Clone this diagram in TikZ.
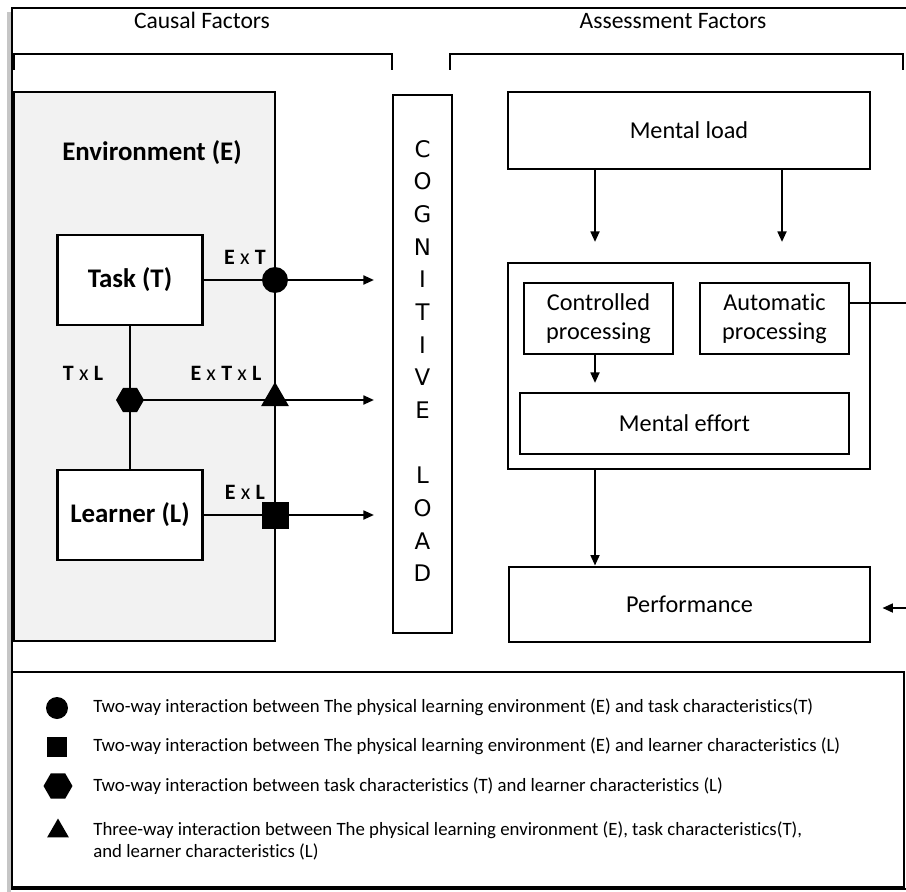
\documentclass[tikz,border=0pt]{standalone}
\usepackage{fontspec}
\setmainfont{Carlito}[Ligatures=NoCommon]
\newfontfamily\cogfont{DejaVu Sans}
\usetikzlibrary{shapes.geometric,arrows.meta}

\begin{document}
\begin{tikzpicture}[x=0.02cm, y=-0.02cm,
    box/.style={draw, line width=1.6pt, fill=white, inner sep=0pt, align=center,
                font=\fontsize{13.8}{16.5}\selectfont},
    bbox/.style={box, font=\fontsize{15.3}{18}\selectfont\bfseries},
    sym/.style={fill=black, draw=none, inner sep=0pt},
    lbl/.style={font=\fontsize{12.5}{14}\selectfont},
    line/.style={line width=1.3pt},
    arr/.style={line width=1.3pt, -{Triangle[length=6pt,width=5pt]}},
    leg/.style={anchor=west, align=left, inner sep=0pt, font=\fontsize{10.7}{12.5}\selectfont}
]
\useasboundingbox (0,0) rectangle (906,892);
\clip (0,0) rectangle (906,892);
% frame and headers
\draw[gray!45, line width=2.5pt] (9,12) -- (9,892);
\draw[line width=1.2pt] (12,8) rectangle (920,889);
\node[font=\fontsize{13.4}{16}\selectfont] (hcause) at (202,20) {Causal Factors};
\node[font=\fontsize{13.4}{16}\selectfont] (hassess) at (673,21) {Assessment Factors};
\draw[line width=1.6pt] (14,70) -- (14,54) -- (392,54) -- (392,70);
\draw[line width=1.6pt] (450,70) -- (450,54) -- (903,54) -- (903,70);

% causal side
\node[box, fill=black!5, minimum width=5.22cm, minimum height=10.98cm] (env) at (144.5,366.5) {};
\node[font=\fontsize{15.3}{18}\selectfont\bfseries] (envtxt) at (152,153) {Environment (E)};
\node[bbox, minimum width=2.9cm, minimum height=1.8cm] (task) at (130,280) {Task (T)};
\node[bbox, minimum width=2.9cm, minimum height=1.8cm] (learner) at (130,515) {Learner (L)};
\coordinate (cl1) at (374,280);
\coordinate (cl2) at (374,400);
\coordinate (cl3) at (374,515);
\draw[line] (task.south) -- (learner.north);
\draw[arr] (task.east) -- (cl1);
\draw[arr] (130,400) -- (cl2);
\draw[arr] (learner.east) -- (cl3);
\node[sym, circle, minimum size=0.52cm] (ext) at (275,280) {};
\node[sym, regular polygon, regular polygon sides=6, minimum size=0.56cm] (txl) at (130,400) {};
\node[sym, regular polygon, regular polygon sides=3, minimum size=0.64cm] (extxl) at (275,398) {};
\node[sym, rectangle, minimum size=0.54cm] (exl) at (275,515) {};
\node[lbl] at (245,257) {\textbf{E}\hspace{3pt}x\hspace{3pt}\textbf{T}};
\node[lbl] at (83,373) {\textbf{T}\hspace{3pt}x\hspace{3pt}\textbf{L}};
\node[lbl] at (226,373) {\textbf{E}\hspace{3pt}x\hspace{3pt}\textbf{T}\hspace{3pt}x\hspace{3pt}\textbf{L}};
\node[lbl] at (245,492) {\textbf{E}\hspace{3pt}x\hspace{3pt}\textbf{L}};

\node[box, minimum width=1.18cm, minimum height=10.76cm] (cogn) at (422.5,364) {};
\node[font=\cogfont\fontsize{13}{18.6}\selectfont, align=center] (cogtxt) at (422.5,361)
  {C\\O\\G\\N\\I\\T\\I\\V\\E\\[18.6pt]L\\O\\A\\D};

% assessment side
\node[box, minimum width=7.24cm, minimum height=1.54cm] (mload) at (689,130.5) {Mental load};
\node[box, minimum width=7.24cm, minimum height=4.12cm] (proc) at (689,366) {};
\node[box, minimum width=2.98cm, minimum height=1.42cm] (ctrl) at (598.5,318.5) {Controlled\\processing};
\node[box, minimum width=2.98cm, minimum height=1.42cm] (auto) at (774.5,318.5) {Automatic\\processing};
\node[box, minimum width=6.58cm, minimum height=1.22cm] (effort) at (684.5,423.5) {Mental effort};
\node[box, minimum width=7.22cm, minimum height=1.5cm] (perf) at (689.5,604.5) {Performance};
\coordinate (ml1) at (595,242);
\coordinate (ml2) at (782,242);
\coordinate (ce) at (595,383);
\coordinate (autoout) at (915,303);
\coordinate (perfin) at (915,608);
\draw[arr] (ml1 |- mload.south) -- (ml1);
\draw[arr] (ml2 |- mload.south) -- (ml2);
\draw[arr] (ce |- ctrl.south) -- (ce);
\draw[arr] (ce |- proc.south) -- (ce |- perf.north);
\draw[line] (autoout -| auto.east) -- (autoout);
\draw[arr, shorten >=0.22cm] (perfin) -- (perfin -| perf.east);

% legend
\draw[line width=1.2pt] (12,672) rectangle (904,887);
\node[sym, circle, minimum size=0.44cm] (lcirc) at (57,708) {};
\node[sym, rectangle, minimum width=0.4cm, minimum height=0.4cm] (lsq) at (57,747) {};
\node[sym, regular polygon, regular polygon sides=6, minimum size=0.58cm] (lhex) at (58,786) {};
\node[sym, regular polygon, regular polygon sides=3, minimum size=0.5cm] (ltri) at (58,831) {};
\node[leg] (t1) at (93,707) {Two-way interaction between The physical learning environment (E) and task characteristics(T)};
\node[leg] (t2) at (93,746) {Two-way interaction between The physical learning environment (E) and learner characteristics (L)};
\node[leg] (t3) at (93,786) {Two-way interaction between task characteristics (T) and learner characteristics (L)};
\node[leg] (t4) at (93,841) {Three-way interaction between The physical learning environment (E), task characteristics(T),\\and learner characteristics (L)};
\end{tikzpicture}
\end{document}
